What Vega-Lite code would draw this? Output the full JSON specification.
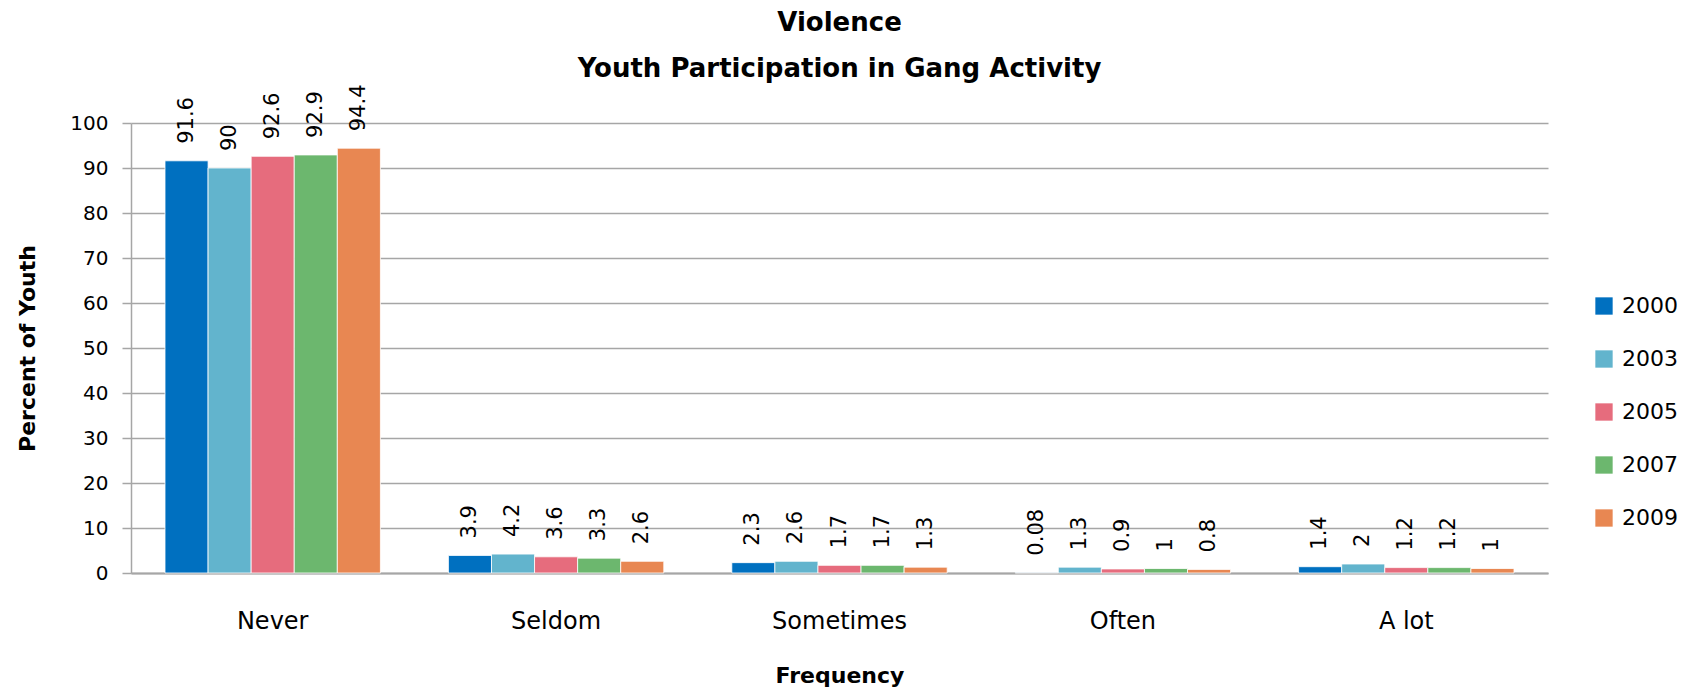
{
  "$schema": "https://vega.github.io/schema/vega-lite/v6.json",
  "autosize": "none",
  "width": 1417,
  "height": 450,
  "padding": {"left": 131, "top": 123, "right": 140, "bottom": 120},
  "background": "white",
  "config": {
    "font": "DejaVu Sans",
    "view": {"stroke": null}
  },
  "title": {
    "text": ["Violence", "Youth Participation in Gang Activity"],
    "font": "DejaVu Sans",
    "fontSize": 26,
    "fontWeight": "bold",
    "color": "#000000",
    "lineHeight": 46,
    "anchor": "middle",
    "offset": 2
  },
  "data": {
    "values": [
      {"freq": "Never", "year": "2000", "pct": 91.6},
      {"freq": "Never", "year": "2003", "pct": 90},
      {"freq": "Never", "year": "2005", "pct": 92.6},
      {"freq": "Never", "year": "2007", "pct": 92.9},
      {"freq": "Never", "year": "2009", "pct": 94.4},
      {"freq": "Seldom", "year": "2000", "pct": 3.9},
      {"freq": "Seldom", "year": "2003", "pct": 4.2},
      {"freq": "Seldom", "year": "2005", "pct": 3.6},
      {"freq": "Seldom", "year": "2007", "pct": 3.3},
      {"freq": "Seldom", "year": "2009", "pct": 2.6},
      {"freq": "Sometimes", "year": "2000", "pct": 2.3},
      {"freq": "Sometimes", "year": "2003", "pct": 2.6},
      {"freq": "Sometimes", "year": "2005", "pct": 1.7},
      {"freq": "Sometimes", "year": "2007", "pct": 1.7},
      {"freq": "Sometimes", "year": "2009", "pct": 1.3},
      {"freq": "Often", "year": "2000", "pct": 0.08},
      {"freq": "Often", "year": "2003", "pct": 1.3},
      {"freq": "Often", "year": "2005", "pct": 0.9},
      {"freq": "Often", "year": "2007", "pct": 1},
      {"freq": "Often", "year": "2009", "pct": 0.8},
      {"freq": "A lot", "year": "2000", "pct": 1.4},
      {"freq": "A lot", "year": "2003", "pct": 2},
      {"freq": "A lot", "year": "2005", "pct": 1.2},
      {"freq": "A lot", "year": "2007", "pct": 1.2},
      {"freq": "A lot", "year": "2009", "pct": 1}
    ]
  },
  "encoding": {
    "x": {
      "field": "freq",
      "type": "nominal",
      "sort": ["Never", "Seldom", "Sometimes", "Often", "A lot"],
      "scale": {"paddingInner": 0.24, "paddingOuter": 0.12},
      "axis": {
        "title": "Frequency",
        "titleFont": "DejaVu Sans",
        "titleFontSize": 22,
        "titleFontWeight": "bold",
        "titleColor": "#000000",
        "titlePadding": 32,
        "labelAngle": 0,
        "labelFont": "DejaVu Sans",
        "labelFontSize": 24,
        "labelColor": "#000000",
        "labelPadding": 36,
        "ticks": false,
        "domainColor": "#A6A6A6",
        "domainWidth": 2
      }
    },
    "xOffset": {"field": "year", "type": "nominal"},
    "y": {
      "field": "pct",
      "type": "quantitative",
      "scale": {"domain": [0, 100], "nice": false},
      "axis": {
        "title": "Percent of Youth",
        "titleFont": "DejaVu Sans",
        "titleFontSize": 22,
        "titleFontWeight": "bold",
        "titleColor": "#000000",
        "titlePadding": 30,
        "values": [0, 10, 20, 30, 40, 50, 60, 70, 80, 90, 100],
        "labelFont": "DejaVu Sans",
        "labelFontSize": 20,
        "labelColor": "#000000",
        "labelPadding": 14,
        "tickColor": "#A6A6A6",
        "tickSize": 9,
        "tickWidth": 1.5,
        "grid": true,
        "gridColor": "#A6A6A6",
        "gridWidth": 1.5,
        "domainColor": "#A6A6A6",
        "domainWidth": 1.5
      }
    }
  },
  "layer": [
    {
      "mark": {"type": "bar", "stroke": "white", "strokeWidth": 0.8},
      "encoding": {
        "color": {
          "field": "year",
          "type": "nominal",
          "scale": {
            "domain": ["2000", "2003", "2005", "2007", "2009"],
            "range": ["#0070C0", "#62B4CD", "#E66C7D", "#6CB76E", "#E88752"]
          },
          "legend": {
            "title": null,
            "orient": "none",
            "legendX": 1462,
            "legendY": 172,
            "symbolType": "square",
            "symbolSize": 300,
            "symbolStrokeWidth": 0,
            "labelFont": "DejaVu Sans",
            "labelFontSize": 22,
            "labelColor": "#000000",
            "labelOffset": 7,
            "rowPadding": 31
          }
        }
      }
    },
    {
      "mark": {
        "type": "text",
        "angle": 270,
        "align": "left",
        "baseline": "middle",
        "dx": 17,
        "font": "DejaVu Sans",
        "fontSize": 21,
        "color": "#000000"
      },
      "encoding": {
        "text": {"field": "pct", "type": "quantitative"}
      }
    }
  ]
}
